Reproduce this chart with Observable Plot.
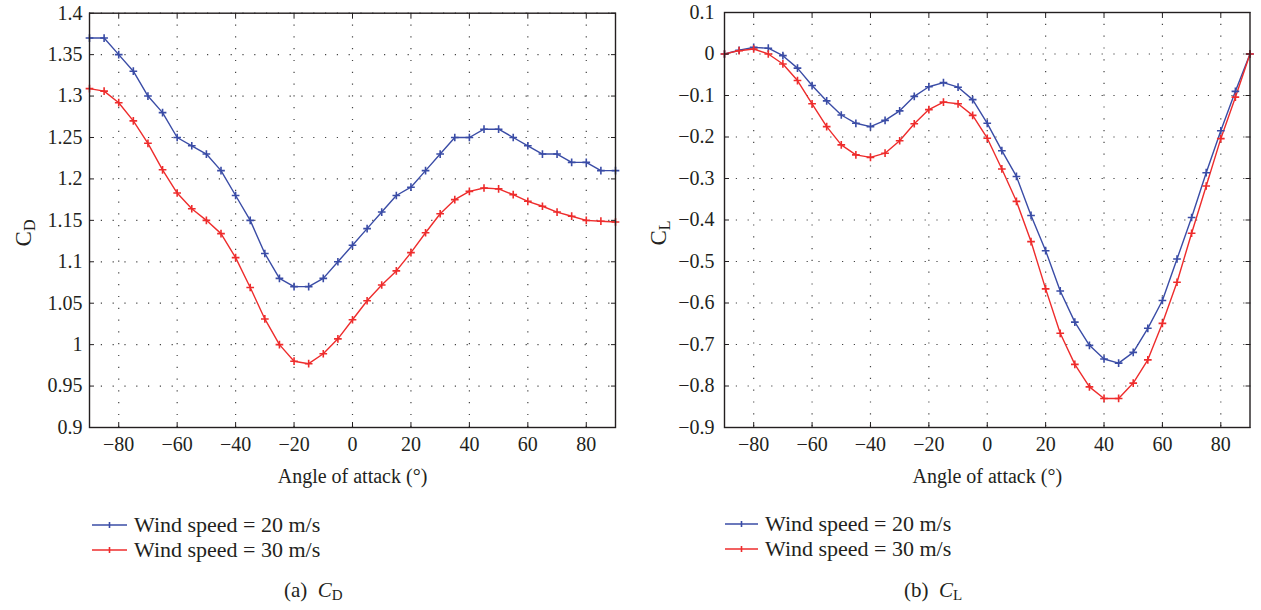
<!DOCTYPE html>
<html><head><meta charset="utf-8">
<script src="https://cdn.jsdelivr.net/npm/d3@7"></script>
<script src="https://cdn.jsdelivr.net/npm/@observablehq/plot@0.6"></script>
<style>
body{margin:0;background:#fff;}
#root{position:relative;width:1261px;height:610px;font-family:"Liberation Serif","Times New Roman","DejaVu Serif",serif;color:#231f20;overflow:hidden;}
.panel{position:absolute;top:0;}
.legend{position:absolute;font-size:22px;line-height:25px;}
.legend .row{display:flex;align-items:center;height:25px;white-space:nowrap;}
.legend svg{display:block;}
.caption{position:absolute;font-size:21px;line-height:24px;white-space:nowrap;}
.caption sub{font-size:15px;vertical-align:-3px;font-style:normal;}
</style></head><body><div id="root"></div>
<script>
// ---- data ----
const angle = [-90,-85,-80,-75,-70,-65,-60,-55,-50,-45,-40,-35,-30,-25,-20,-15,-10,-5,0,5,10,15,20,25,30,35,40,45,50,55,60,65,70,75,80,85,90];
const seriesNames = ["Wind speed = 20 m/s", "Wind speed = 30 m/s"];
const seriesColors = ["#3a4ca6", "#ee2c2c"];
const cd20 = [1.37,1.37,1.35,1.33,1.30,1.28,1.25,1.24,1.23, 1.21,1.18,1.15,1.11,1.08,1.07,1.07,1.08,1.10, 1.12,1.14,1.16,1.18,1.19,1.21,1.23,1.25,1.25, 1.26,1.26,1.25,1.24,1.23,1.23,1.22,1.22,1.21,1.21];
const cd30 = [1.309,1.306,1.292,1.270,1.243,1.211,1.183,1.164,1.150, 1.134,1.105,1.069,1.031,1.000,0.980,0.977,0.989,1.007, 1.030,1.053,1.072,1.089,1.111,1.135,1.158,1.175,1.185, 1.189,1.188,1.181,1.173,1.167,1.160,1.155,1.150,1.149,1.148];
const cl20 = [0,0.009,0.016,0.014,-0.004,-0.034,-0.076,-0.113,-0.147, -0.167,-0.175,-0.160,-0.137,-0.102,-0.079,-0.069,-0.080,-0.110, -0.167,-0.233,-0.295,-0.389,-0.474,-0.571,-0.646,-0.702,-0.735, -0.745,-0.719,-0.661,-0.594,-0.494,-0.394,-0.286,-0.185,-0.090,0];
const cl30 = [0,0.008,0.012,0.0,-0.024,-0.064,-0.120,-0.175,-0.219, -0.243,-0.249,-0.239,-0.209,-0.168,-0.134,-0.116,-0.120,-0.148, -0.203,-0.277,-0.355,-0.452,-0.566,-0.673,-0.748,-0.802,-0.830, -0.830,-0.793,-0.737,-0.649,-0.550,-0.432,-0.318,-0.204,-0.104,0];
const xTicks = [-80,-60,-40,-20,0,20,40,60,80];
const cdTicks = [0.9,0.95,1,1.05,1.1,1.15,1.2,1.25,1.3,1.35,1.4];
const clTicks = [-0.9,-0.8,-0.7,-0.6,-0.5,-0.4,-0.3,-0.2,-0.1,0,0.1];
const xLabel = "Angle of attack (°)";

const fmt = d => d3.format("~g")(d).replace("-", "\u2212");
const FONT = '"Liberation Serif", "Times New Roman", "DejaVu Serif", serif';

function chart(o) {
  const data = [
    ...angle.map((a, i) => ({angle: a, value: o.y20[i], series: seriesNames[0]})),
    ...angle.map((a, i) => ({angle: a, value: o.y30[i], series: seriesNames[1]}))
  ];
  const grid = {stroke: "#444", strokeOpacity: 1, strokeWidth: 1.2, strokeDasharray: "1.2,10.6"};
  const svg = Plot.plot({
    width: o.width, height: 485,
    marginLeft: o.marginLeft, marginRight: o.marginRight, marginTop: o.marginTop, marginBottom: 58,
    style: {fontFamily: FONT, fontSize: "20px", color: "#231f20", background: "transparent", overflow: "visible"},
    x: {domain: [-90, 90]},
    y: {domain: o.yDomain},
    color: {domain: seriesNames, range: seriesColors},
    marks: [
      Plot.gridX(xTicks, grid),
      Plot.gridY(o.yTicks, grid),
      Plot.line(data, {x: "angle", y: "value", z: "series", stroke: "series", strokeWidth: 1.4}),
      Plot.dot(data, {x: "angle", y: "value", stroke: "series", symbol: "plus", r: 2.6, strokeWidth: 1.6}),
      Plot.frame({stroke: "#231f20", strokeWidth: 1.4}),
      Plot.axisX(xTicks, {anchor: "bottom", tickSize: -5, tickPadding: 14, label: xLabel, labelAnchor: "center", labelOffset: 55, labelArrow: "none", tickFormat: fmt}),
      Plot.axisX(xTicks, {anchor: "top", tickSize: -5, fill: "none", label: null}),
      Plot.axisY(o.yTicks, {anchor: "left", tickSize: -5, tickPadding: o.tickPadY, label: null, tickFormat: fmt}),
      Plot.axisY(o.yTicks, {anchor: "right", tickSize: -5, fill: "none", label: null})
    ]
  });
  const t = d3.select(svg).append("text")
    .attr("transform", `translate(${o.labelX},233) rotate(-90)`)
    .attr("font-size", 23).attr("fill", "#231f20");
  t.append("tspan").text("C");
  t.append("tspan").attr("dy", 4).attr("font-size", 16).text(o.sub);
  return svg;
}

const root = document.getElementById("root");
function addPanel(svg, left) {
  const d = document.createElement("div");
  d.className = "panel"; d.style.left = left + "px";
  d.appendChild(svg); root.appendChild(d);
}
addPanel(chart({y20: cd20, y30: cd30, yTicks: cdTicks, yDomain: [0.9, 1.4], width: 630, marginLeft: 89, marginRight: 15, marginTop: 12.7, tickPadY: 12, labelX: 31, sub: "D"}), 0);
addPanel(chart({y20: cl20, y30: cl30, yTicks: clTicks, yDomain: [-0.9, 0.1], width: 631, marginLeft: 94, marginRight: 11.5, marginTop: 12, tickPadY: 15, labelX: 36, sub: "L"}), 630);

function addLegend(left, top, lineW) {
  const lg = document.createElement("div");
  lg.className = "legend"; lg.style.left = left + "px"; lg.style.top = top + "px";
  seriesNames.forEach((name, i) => {
    const row = document.createElement("div"); row.className = "row";
    const s = d3.create("svg").attr("width", lineW).attr("height", 14);
    s.append("line").attr("x1", 0).attr("x2", lineW).attr("y1", 7).attr("y2", 7).attr("stroke", seriesColors[i]).attr("stroke-width", 1.4);
    s.append("line").attr("x1", lineW/2).attr("x2", lineW/2).attr("y1", 4).attr("y2", 10).attr("stroke", seriesColors[i]).attr("stroke-width", 1.6);
    row.appendChild(s.node());
    const sp = document.createElement("span"); sp.textContent = name; sp.style.marginLeft = "7px";
    row.appendChild(sp);
    lg.appendChild(row);
  });
  root.appendChild(lg);
}
addLegend(92, 512, 35);
addLegend(725, 511, 33);

function addCaption(left, letter, sub) {
  const c = document.createElement("div");
  c.className = "caption"; c.style.left = left + "px"; c.style.top = "578px";
  c.innerHTML = `(${letter})&nbsp;&nbsp;<i>C</i><sub>${sub}</sub>`;
  root.appendChild(c);
}
addCaption(284, "a", "D");
addCaption(904, "b", "L");
</script>
</body></html>
